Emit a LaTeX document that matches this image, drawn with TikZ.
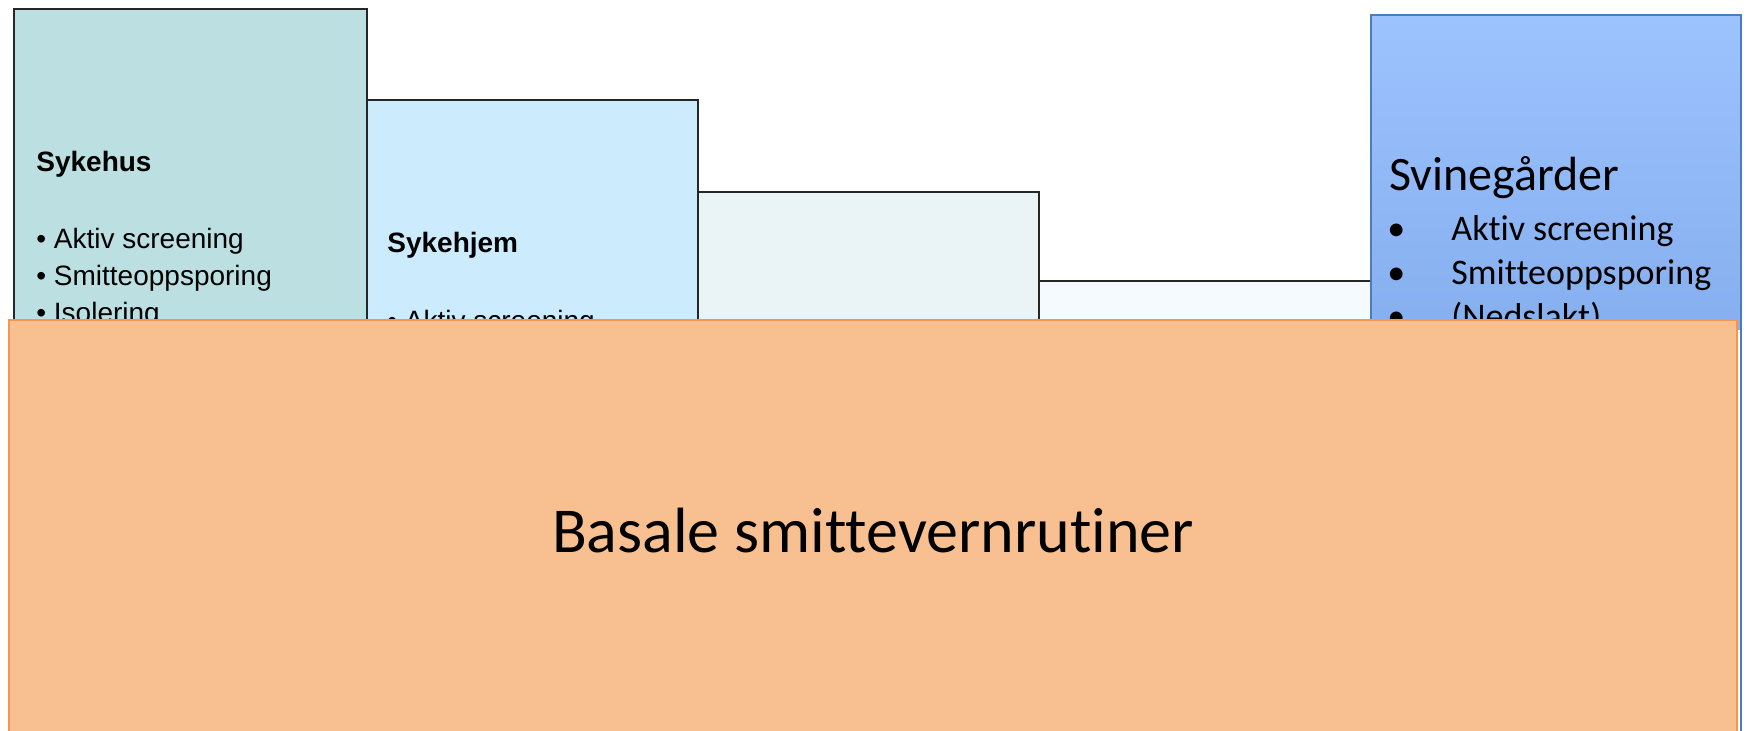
\documentclass[tikz,border=0pt]{standalone}
\usepackage{fontspec}
\setmainfont{Liberation Sans}
\newfontfamily\arialf{Liberation Sans}
\newfontfamily\calib[Ligatures=NoCommon]{Carlito}
\definecolor{sykehusfill}{HTML}{BCE0E2}
\definecolor{sykehjemfill}{HTML}{CCEBFC}
\definecolor{thirdfill}{HTML}{EAF4F6}
\definecolor{fourthfill}{HTML}{F4FAFE}
\definecolor{svintop}{HTML}{9DC3FE}
\definecolor{svinbot}{HTML}{86AFEF}
\definecolor{svinedge}{HTML}{4A7EBB}
\definecolor{basefill}{HTML}{F8BF90}
\definecolor{baseedge}{HTML}{F79646}
\definecolor{stepedge}{HTML}{262626}
\tikzset{
  levelbox/.style={draw=stepedge, line width=1.1pt},
  smalltxt/.style={inner sep=0pt, anchor=base west, font=\arialf\fontsize{14}{17}\selectfont},
  smalltitle/.style={smalltxt, font=\arialf\bfseries\fontsize{14}{17}\selectfont},
  farmtitle/.style={inner sep=0pt, anchor=base west, font=\calib\fontsize{24}{29}\selectfont},
  farmtxt/.style={inner sep=0pt, anchor=base west, font=\calib\fontsize{18}{22}\selectfont},
}
\begin{document}
\begin{tikzpicture}[x=0.5pt, y=-0.5pt]
\useasboundingbox (0,0) rectangle (1748,731);
\fill[white] (0,0) rectangle (1748,731);

% stepped levels of measures
\path[levelbox, fill=sykehusfill] (14,9) rectangle (367,740);
\path[levelbox, fill=sykehjemfill] (367,100) rectangle (698,740);
\path[levelbox, fill=thirdfill] (698,192) rectangle (1039,740);
\path[levelbox, fill=fourthfill] (1039,281) rectangle (1371,740);

\node[smalltitle] (sykehus) at (36,172) {Sykehus};
\node[smalltxt] (sh1) at (36,249) {• Aktiv screening};
\node[smalltxt] (sh2) at (36,286) {• Smitteoppsporing};
\node[smalltxt] (sh3) at (36,323) {• Isolering};

\node[smalltitle] (sykehjem) at (387,253) {Sykehjem};
\node[smalltxt] (sj1) at (387,331) {• Aktiv screening};

% pig farms
\shade[top color=svintop, bottom color=svinbot] (1371,15) rectangle (1741,330);
\draw[svinedge, line width=0.8pt] (1371,740) -- (1371,15) -- (1741,15) -- (1741,740);
\node[farmtitle] (svin) at (1389,191) {Svinegårder};
\node[farmtxt] (b1) at (1387,241) {•};
\node[farmtxt] (f1) at (1451,241) {Aktiv screening};
\node[farmtxt] (b2) at (1387,285) {•};
\node[farmtxt] (f2) at (1451,285) {Smitteoppsporing};
\node[farmtxt] (b3) at (1387,329) {•};
\node[farmtxt] (f3) at (1451,329) {(Nedslakt)};

% common base
\path[fill=basefill, draw=baseedge, line width=1pt] (9,320) rectangle (1737,740);
\node[inner sep=0pt, anchor=base, font=\calib\fontsize{32}{38}\selectfont] (basale) at (873,552) {Basale smittevernrutiner};
\end{tikzpicture}
\end{document}
